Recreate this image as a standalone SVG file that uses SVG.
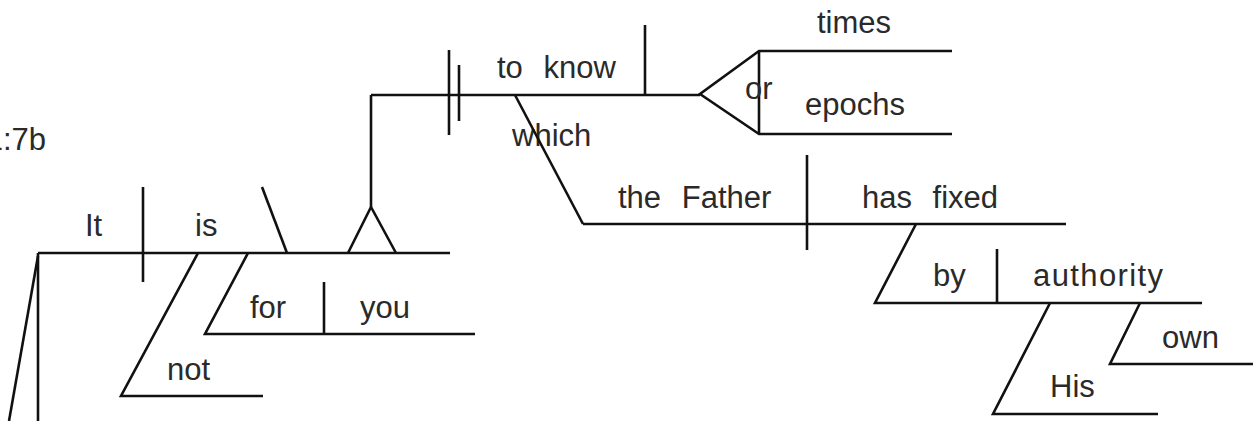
<svg xmlns="http://www.w3.org/2000/svg" width="1257" height="421" viewBox="0 0 1257 421">
<style>
  line, polyline { stroke: #111; stroke-width: 2.6; fill: none; stroke-linecap: butt; }
  text { font-family: "Liberation Sans", Arial, sans-serif; font-size: 31px; fill: #2a2a2a; word-spacing: 12px; }
</style>
<rect width="1257" height="421" fill="#ffffff"/>

<g id="ref-label">
  <text x="46" y="150" text-anchor="end" style="word-spacing:0">1:7b</text>
</g>

<g id="main-clause">
  <line x1="38" y1="253" x2="450" y2="253"/>
  <line x1="143" y1="187" x2="143" y2="282"/>
  <line x1="262" y1="187" x2="287" y2="253"/>
  <text x="85" y="236">It</text>
  <text x="195" y="236">is</text>
</g>

<g id="mod-not">
  <polyline points="198,253 121,396 263,396"/>
  <text x="167" y="380">not</text>
</g>

<g id="mod-for-you">
  <polyline points="248,253 205,334 475,334"/>
  <line x1="324" y1="282" x2="324" y2="334"/>
  <text x="250" y="318">for</text>
  <text x="360" y="318">you</text>
</g>

<g id="infinitive">
  <line x1="371" y1="95" x2="700" y2="95"/>
  <line x1="449" y1="50" x2="449" y2="135"/>
  <line x1="459" y1="65" x2="459" y2="121"/>
  <line x1="645" y1="25" x2="645" y2="95"/>
  <text x="497" y="78">to know</text>
</g>

<g id="or-fork">
  <polyline points="952,51 759,51 700,94 759,134 952,134"/>
  <line x1="759" y1="51" x2="759" y2="134"/>
  <text x="745" y="99" style="word-spacing:0">or</text>
  <text x="817" y="33">times</text>
  <text x="805" y="115">epochs</text>
</g>

<g id="relative-clause">
  <line x1="583" y1="224" x2="1066" y2="224"/>
  <line x1="807" y1="155" x2="807" y2="250"/>
  <text x="618" y="208">the Father</text>
  <text x="862" y="208">has fixed</text>
</g>

<g id="which">
  <text x="512" y="146">which</text>
</g>

<g id="mod-by-authority">
  <polyline points="916,224 875,303 1202,303"/>
  <line x1="997" y1="249" x2="997" y2="303"/>
  <text x="933" y="286">by</text>
  <text x="1033" y="286" textLength="130">authority</text>
</g>

<g id="mod-his">
  <polyline points="1050,303 993,414 1158,414"/>
  <text x="1050" y="397">His</text>
</g>

<g id="mod-own">
  <polyline points="1140,303 1110,364 1253,364"/>
  <text x="1162" y="348">own</text>
</g>

<g id="connectors">
  <line x1="371" y1="95" x2="371" y2="207"/>
  <polyline points="348,253 371,207 396,253"/>
  <line x1="515" y1="95" x2="583" y2="224"/>
  <line x1="38" y1="253" x2="38" y2="421"/>
  <line x1="38" y1="256" x2="9" y2="421"/>
</g>
</svg>
